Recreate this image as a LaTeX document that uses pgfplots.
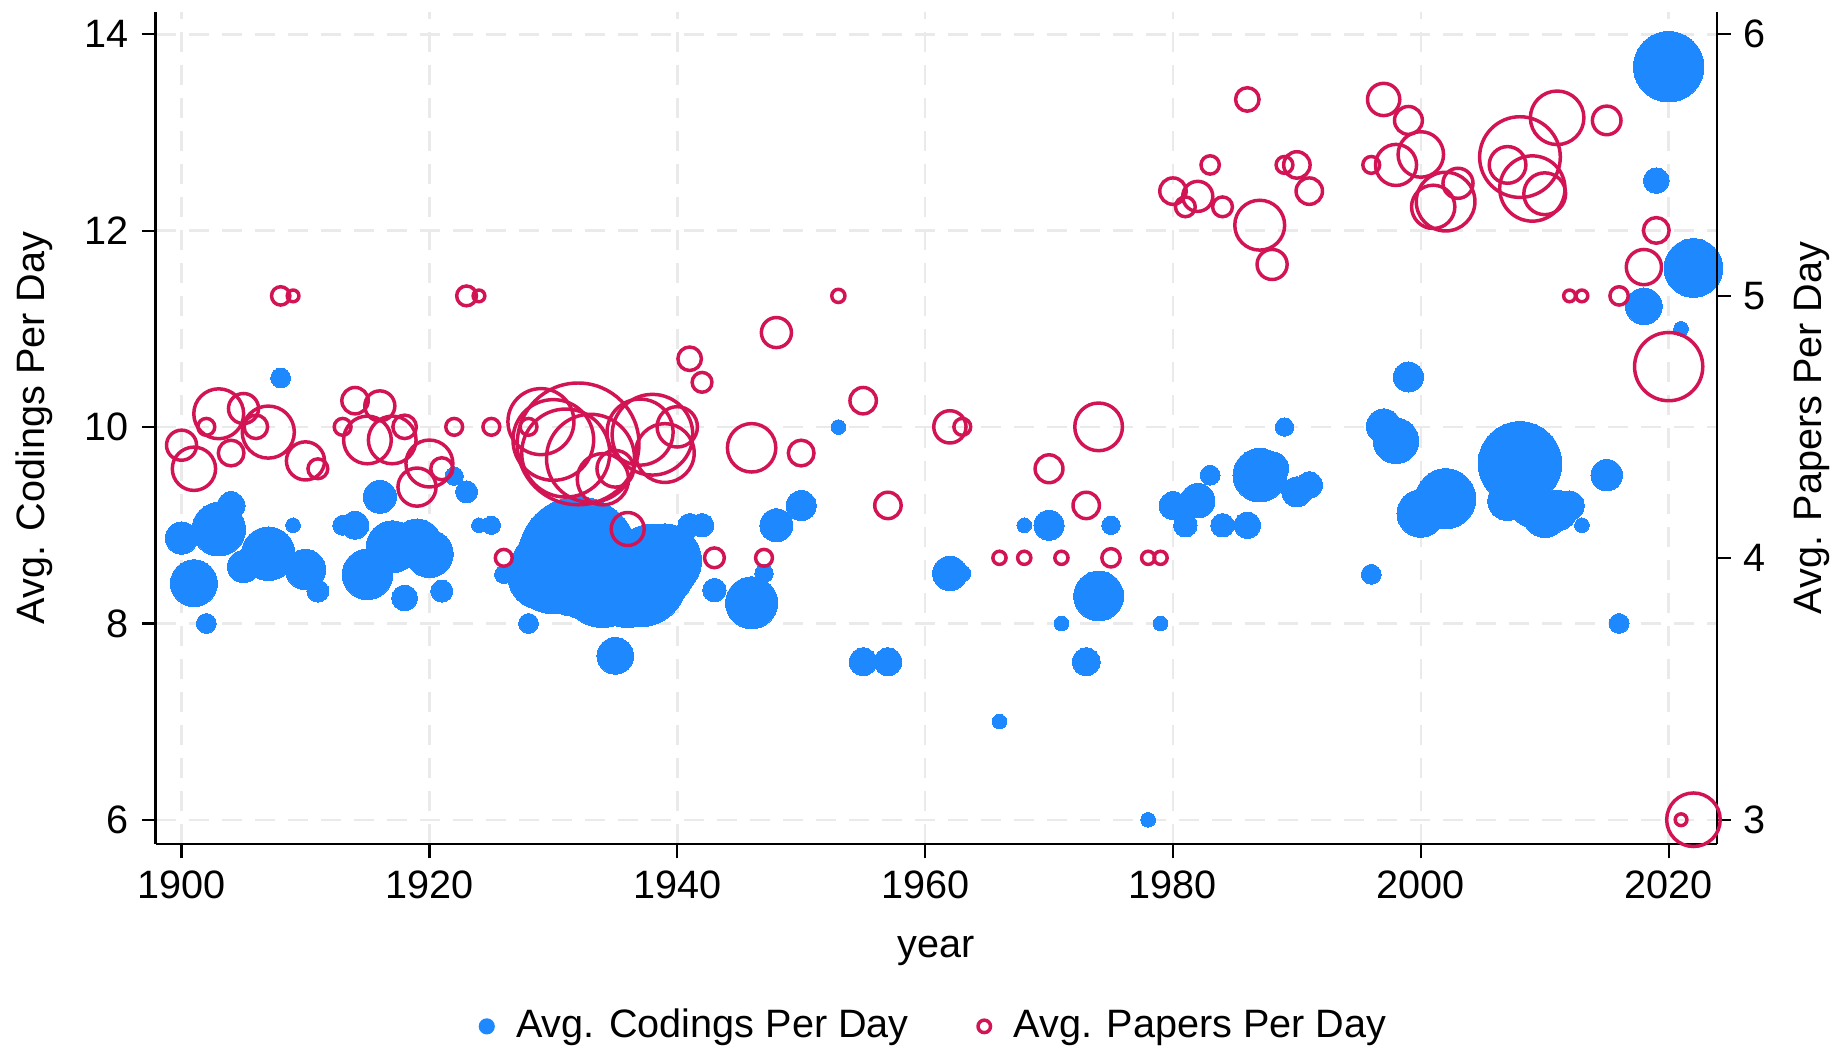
\documentclass[border=0pt]{standalone}
\usepackage{fontspec}
\setmainfont{Liberation Sans}
\usepackage{pgfplots}
\usepackage{pgfplotstable}
\pgfplotsset{compat=1.18}

\definecolor{cblue}{RGB}{30,137,255}
\definecolor{cred}{RGB}{210,20,85}
\definecolor{cgrid}{RGB}{234,234,234}

% year, value, bubble radius (pt)
\pgfplotstableread{
year val r
1900 8.87 4.4
1901 8.41 6.4
1902 8.00 2.7
1903 8.96 7.3
1904 9.20 3.8
1905 8.58 4.4
1907 8.71 7.3
1908 10.50 2.7
1909 9.00 2.0
1910 8.55 5.5
1911 8.33 3.0
1913 9.00 2.7
1914 9.00 3.8
1915 8.50 6.9
1916 9.29 4.5
1917 8.78 7.1
1918 8.26 3.5
1919 8.81 6.8
1920 8.71 6.5
1921 8.33 3.0
1922 9.50 2.5
1923 9.34 3.0
1924 9.00 2.0
1925 9.00 2.5
1926 8.50 2.5
1928 8.00 2.7
1929 8.48 9.0
1930 8.54 11.8
1931 8.61 12.7
1932 8.68 16.3
1933 8.54 13.6
1934 8.40 11.8
1935 7.67 5.0
1936 8.40 11.8
1937 8.44 12.7
1938 8.57 11.8
1939 8.64 10.0
1940 8.68 5.4
1941 9.00 3.2
1942 9.00 3.2
1943 8.34 3.2
1946 8.21 7.1
1947 8.51 2.5
1948 9.00 4.5
1950 9.20 4.1
1953 10.00 2.0
1955 7.61 3.8
1957 7.61 3.8
1962 8.51 4.7
1963 8.51 2.3
1966 7.00 2.0
1968 9.00 2.0
1970 9.00 4.1
1971 8.00 2.0
1973 7.61 3.8
1974 8.28 6.8
1975 9.00 2.5
1978 6.00 2.0
1979 8.00 2.0
1980 9.20 3.8
1981 9.00 3.2
1982 9.25 4.7
1983 9.51 2.7
1984 9.00 3.2
1986 9.00 3.6
1987 9.51 7.3
1988 9.58 4.5
1989 10.00 2.5
1990 9.34 4.1
1991 9.41 3.6
1996 8.50 2.7
1997 10.01 4.7
1998 9.86 6.2
1999 10.51 4.1
2000 9.12 6.5
2001 9.20 6.4
2002 9.27 8.2
2003 9.27 4.5
2007 9.25 5.4
2008 9.63 11.4
2009 9.20 6.0
2010 9.10 6.0
2011 9.15 5.5
2012 9.20 4.0
2013 9.00 2.0
2015 9.51 4.3
2016 8.00 2.7
2018 11.23 5.0
2019 12.51 3.5
2020 13.67 9.6
2021 11.00 2.0
2022 11.62 8.0
}\codings

\pgfplotstableread{
year val r
1900 4.43 4.1
1901 4.34 5.9
1902 4.50 2.3
1903 4.55 6.8
1904 4.40 3.5
1905 4.57 4.1
1906 4.50 3.2
1907 4.48 7.1
1908 5.00 2.5
1909 5.00 1.6
1910 4.37 5.2
1911 4.34 2.7
1913 4.50 2.3
1914 4.60 3.6
1915 4.45 6.5
1916 4.58 4.1
1917 4.45 6.5
1918 4.50 3.2
1919 4.27 5.2
1920 4.36 6.4
1921 4.34 3.0
1922 4.50 2.3
1923 5.00 2.7
1924 5.00 1.6
1925 4.50 2.3
1926 4.00 2.3
1928 4.50 2.3
1929 4.52 9.0
1930 4.45 11.0
1931 4.40 12.0
1932 4.435 16.6
1933 4.38 12.0
1934 4.30 7.0
1935 4.34 5.0
1936 4.11 4.5
1937 4.48 9.0
1938 4.47 11.0
1939 4.40 8.0
1940 4.50 5.5
1941 4.76 3.2
1942 4.67 2.7
1943 4.00 2.7
1946 4.42 6.6
1947 4.00 2.3
1948 4.86 4.1
1950 4.40 3.5
1953 5.00 1.8
1955 4.60 3.6
1957 4.20 3.6
1962 4.50 4.4
1963 4.50 2.3
1966 4.00 1.8
1968 4.00 1.8
1970 4.34 3.8
1971 4.00 1.8
1973 4.20 3.6
1974 4.50 6.5
1975 4.00 2.5
1978 4.00 1.8
1979 4.00 1.8
1980 5.40 3.6
1981 5.34 2.7
1982 5.38 4.1
1983 5.50 2.5
1984 5.34 2.7
1986 5.75 3.2
1987 5.27 6.8
1988 5.12 4.1
1989 5.50 2.3
1990 5.50 3.6
1991 5.40 3.6
1996 5.50 2.3
1997 5.75 4.4
1998 5.50 5.6
1999 5.67 3.8
2000 5.54 6.2
2001 5.34 5.9
2002 5.36 8.0
2003 5.43 4.1
2007 5.50 5.0
2008 5.53 11.0
2009 5.41 8.9
2010 5.39 5.7
2011 5.68 7.3
2012 5.00 1.6
2013 5.00 1.6
2015 5.67 3.9
2016 5.00 2.5
2018 5.11 4.8
2019 5.25 3.5
2020 4.73 9.3
2021 3.00 1.6
2022 3.00 7.3
}\papers

\pgfplotsset{
  common/.style={
    at={(0pt,0pt)}, anchor=south west,
    scale only axis, width=425.7pt, height=227pt,
    xmin=1897.9, xmax=2023.9,
    tick align=outside, major tick length=3.8pt,
    tick style={black, line width=0.6pt},
    axis line style={black, line width=0.6pt, -},
    /pgf/number format/1000 sep={},
    /pgf/number format/assume math mode=true,
    tick label style={font=\fontsize{10.8}{13}\selectfont},
    label style={font=\fontsize{10.8}{13}\selectfont, inner sep=0pt},
    every axis y label/.style={rotate=90, anchor=center},
  },
}

\begin{document}
\begin{tikzpicture}[font=\fontsize{10.8}{13}\selectfont]
\useasboundingbox (-42.4pt,-55.5pt) rectangle (457.6pt,230.2pt);
\begin{axis}[common, name=ax,
  ymin=5.75, ymax=14.23,
  axis x line*=bottom, axis y line*=left,
  xtick pos=bottom, ytick pos=left,
  xtick={1900,1920,...,2020}, ytick={6,8,...,14},
  grid=major,
  major grid style={cgrid, line width=0.7pt, dash pattern=on 5.5pt off 3.5pt},
  xlabel={year}, ylabel={Avg. Codings Per Day},
  every axis x label/.style={at={(axis description cs:0.5,-0.1276)}, anchor=center},
  ylabel style={at={(axis description cs:-0.0775,0.5)}},
]
\addplot[scatter, only marks, forget plot, mark=*,
  scatter/use mapped color={draw=cblue, fill=cblue},
  mark options={line width=0pt},
  visualization depends on={\thisrow{r} \as \rad},
  scatter/@pre marker code/.append style={/tikz/mark size=\rad}]
  table[x=year, y=val] {\codings};
\end{axis}
\begin{axis}[common,
  ymin=2.906, ymax=6.085,
  hide x axis, axis y line*=right, ytick pos=right,
  ytick={3,4,5,6},
  ylabel={Avg. Papers Per Day},
  ylabel style={at={(axis description cs:1.061,0.5)}},
  legend columns=2,
  legend style={draw=none, inner sep=0pt, at={(0.5,-0.2186)}, anchor=center,
    font=\fontsize{10.8}{13}\selectfont,
    /tikz/every even column/.append style={column sep=16.4pt}},
]
\addplot[scatter, only marks, forget plot, mark=o,
  scatter/use mapped color={draw=cred, fill=none},
  mark options={line width=0.95pt},
  visualization depends on={\thisrow{r} \as \rad},
  scatter/@pre marker code/.append style={/tikz/mark size=\rad, /tikz/line width=0.95pt}]
  table[x=year, y=val] {\papers};
\addlegendimage{legend image code/.code={\fill[cblue] (0pt,0pt) circle (2pt); \path[draw=none, fill=none] (-2pt,0pt) rectangle (6pt,0.1pt);}}
\addlegendentry{Avg. Codings Per Day}
\addlegendimage{legend image code/.code={\draw[cred, line width=0.95pt] (0pt,0pt) circle (1.7pt); \path[draw=none, fill=none] (-2pt,0pt) rectangle (6pt,0.1pt);}}
\addlegendentry{Avg. Papers Per Day}
\end{axis}
\end{tikzpicture}
\end{document}
